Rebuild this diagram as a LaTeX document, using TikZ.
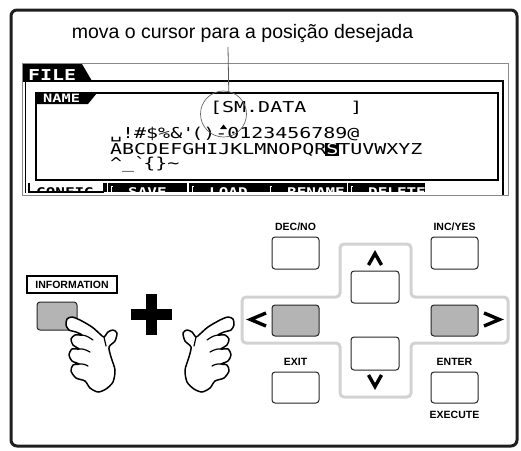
\documentclass[tikz,border=0pt]{standalone}
\usepackage{fontspec}
\setmainfont{Liberation Sans}
\newfontfamily\lcdfont[FakeStretch=1.33]{DejaVu Sans Mono}
\definecolor{framecol}{HTML}{1E1E1E}
\definecolor{lcdgray}{HTML}{8A8A8A}
\definecolor{keygray}{HTML}{B4B4B4}
\definecolor{padgray}{HTML}{D2D2D2}

% outline of a pointing hand (index finger up-left, thumb up-right)
\newcommand\handoutline{%
  plot[smooth cycle, tension=0.45] coordinates {
    (72,317) (80,320) (92,327) (100,334) (104,337) (108,332) (113,330)
    (117,333) (115,341) (109,347) (111,357) (115,370) (113,382) (106,389)
    (98,392) (90,388) (85,381) (76,378) (71,371) (73,365) (79,364)
    (72,361) (69,355) (72,349) (79,349) (73,345) (71,339) (75,335)
    (82,335) (76,332) (69,330) (66,325) (67,319)}}
\newcommand\handcreases{%
  (82,335) .. controls (87,336) .. (93,340)
  (79,349) .. controls (84,349) .. (90,352)
  (79,364) .. controls (84,364) .. (88,366)
  (104,337) .. controls (105,341) .. (106,346)}

\begin{document}
\begin{tikzpicture}[x=1pt,y=-1pt,
  panelframe/.style={draw=framecol, line width=3pt, rounded corners=6pt},
  panelkey/.style={draw=black!85, line width=1pt, rounded corners=3pt, fill=white,
    minimum width=47pt, minimum height=32pt, inner sep=0pt},
  graykey/.style={panelkey, fill=keygray},
  keylabel/.style={font=\bfseries\fontsize{10.5}{12}\selectfont, inner sep=0pt},
  lcdtext/.style={font=\lcdfont\fontsize{15}{15}\selectfont, inner sep=0pt, anchor=base west},
  tabtext/.style={font=\lcdfont\bfseries\fontsize{12}{12}\selectfont, inner sep=0pt, anchor=base west},
  chev/.style={line width=3.4pt, line join=miter},
  handline/.style={draw=black, fill=white, line width=1.5pt, line join=round},
  crease/.style={draw=black, line width=1.2pt, line cap=round},
  leader/.style={draw=black!65, line width=0.8pt},
]
\useasboundingbox (0,0) rectangle (521,450);

% outer panel
\draw[panelframe] (11,10) rectangle (517,446);

% caption and its leader line
\node[font=\fontsize{19.5}{22}\selectfont, inner sep=0pt] (title) at (242.5,33)
  {mova o cursor para a posição desejada};
\coordinate (lead) at (228,47);

% ---------- LCD ----------
\draw[lcdgray, line width=1pt] (22,63) rectangle (508,195);
\draw[black, line width=1.5pt] (25.5,64) -- (25.5,193);
\draw[black, line width=1.5pt] (23,81) -- (503,81) -- (503,195);
\fill[black] (23,64) -- (82,64) -- (92,81) -- (23,81) -- cycle;
\node[font=\lcdfont\bfseries\fontsize{15}{15}\selectfont, text=white, inner sep=0pt, anchor=base west]
  (filetab) at (28,80) {FILE};

\draw[black, line width=2pt] (36,93) rectangle (498,180);
\fill[black] (37,93) -- (97,93) -- (88,104) -- (37,104) -- cycle;
\node[font=\lcdfont\bfseries\fontsize{11.5}{12}\selectfont, text=white, inner sep=0pt, anchor=base west]
  (nametab) at (43,102.5) {NAME};

\node[lcdtext] (fname) at (210,112) {[SM.DATA\hspace{44pt}]};
\fill[black] (220,129) -- (223.5,124.5) -- (227,129) -- cycle;
\node[lcdtext] (row1) at (110,138.5)
  {␣!\#\$\%\&\textquotesingle()-0123456789@};
\fill[black] (325,142.5) rectangle (339,155.5);
\node[lcdtext] (row2) at (110,154)
  {ABCDEFGHIJKLMNOPQR\textcolor{white}{S}TUVWXYZ};
\node[lcdtext] (row3) at (110,168)
  {\textasciicircum\_\textasciigrave\{\}\textasciitilde};

\node[draw=black!60, line width=0.7pt, circle, minimum size=46pt, inner sep=0pt] (cur) at (223.5,114) {};
\draw[leader] (lead) -- (cur.77);

% function tabs along the bottom of the screen
\draw[black, line width=1.3pt] (29,183) -- (29,192) -- (104,192);
\fill[black] (103,183) rectangle (107,192);
\begin{scope}
  \clip (30,183) rectangle (102,191);
  \node[tabtext] (tconfig) at (36,196) {CONFIG};
\end{scope}
\foreach \xa/\xb/\txt/\nm in {108/187/SAVE/tsave, 189/267/LOAD/tload,
                              267/347/RENAME/trename, 348/425/DELETE/tdelete}{
  \begin{scope}
    \clip (\xa,183) rectangle (\xb,192);
    \fill[black] (\xa,183) rectangle (\xb,192);
    \draw[white, line width=1pt] (\xa+5,186) -- (\xa+3,186) -- (\xa+3,192);
    \node[tabtext, text=white] (\nm) at (\xa+20,196) {\txt};
  \end{scope}
}

% ---------- keys ----------
\draw[padgray, line width=3pt, rounded corners=4pt]
  (340,244) -- (411,244) -- (411,297) -- (508,297) -- (508,343) -- (411,343)
  -- (411,397) -- (340,397) -- (340,343) -- (242,343) -- (242,297) -- (340,297) -- cycle;

\node[panelkey] (decno) at (295.5,253) {};
\node[panelkey] (incyes) at (454.5,253) {};
\node[panelkey, minimum width=48pt] (up) at (375,287) {};
\node[graykey, minimum height=31pt] (left) at (295.5,320.5) {};
\node[graykey, minimum height=31pt] (right) at (454.5,320.5) {};
\node[panelkey, minimum width=48pt, minimum height=33pt] (down) at (375,353.5) {};
\node[panelkey, minimum height=31pt] (exit) at (295.5,387.5) {};
\node[panelkey, minimum height=31pt] (enter) at (454.5,387.5) {};

\node[keylabel] (ldec) at (295.5,227) {DEC/NO};
\node[keylabel] (linc) at (454.5,227) {INC/YES};
\node[keylabel] (lexit) at (295.5,362) {EXIT};
\node[keylabel] (lenter) at (454.5,362) {ENTER};
\node[keylabel] (lexec) at (454.5,415) {EXECUTE};

\draw[chev] (368.5,265) -- (375,253.5) -- (381.5,265);
\draw[chev] (368.5,375) -- (375,386.5) -- (381.5,375);
\draw[chev] (266,313) -- (250.5,319.5) -- (266,326);
\draw[chev] (484,313) -- (499.5,319.5) -- (484,326);

% INFORMATION key
\node[draw=black, line width=1.2pt, minimum width=90pt, minimum height=17pt, inner sep=0pt,
  font=\bfseries\fontsize{10.5}{12}\selectfont] (info) at (72,284.5) {INFORMATION};
\node[graykey, minimum width=40pt, minimum height=28pt] (infokey) at (57,316) {};

% plus sign
\fill[black] (131,309) rectangle (172,320);
\fill[black] (146,294) rectangle (157,335);

% hands
\draw[handline] \handoutline;
\draw[crease] \handcreases;
\begin{scope}[xshift=300pt, xscale=-1]
  \draw[handline] \handoutline;
  \draw[crease] \handcreases;
\end{scope}
\end{tikzpicture}
\end{document}
